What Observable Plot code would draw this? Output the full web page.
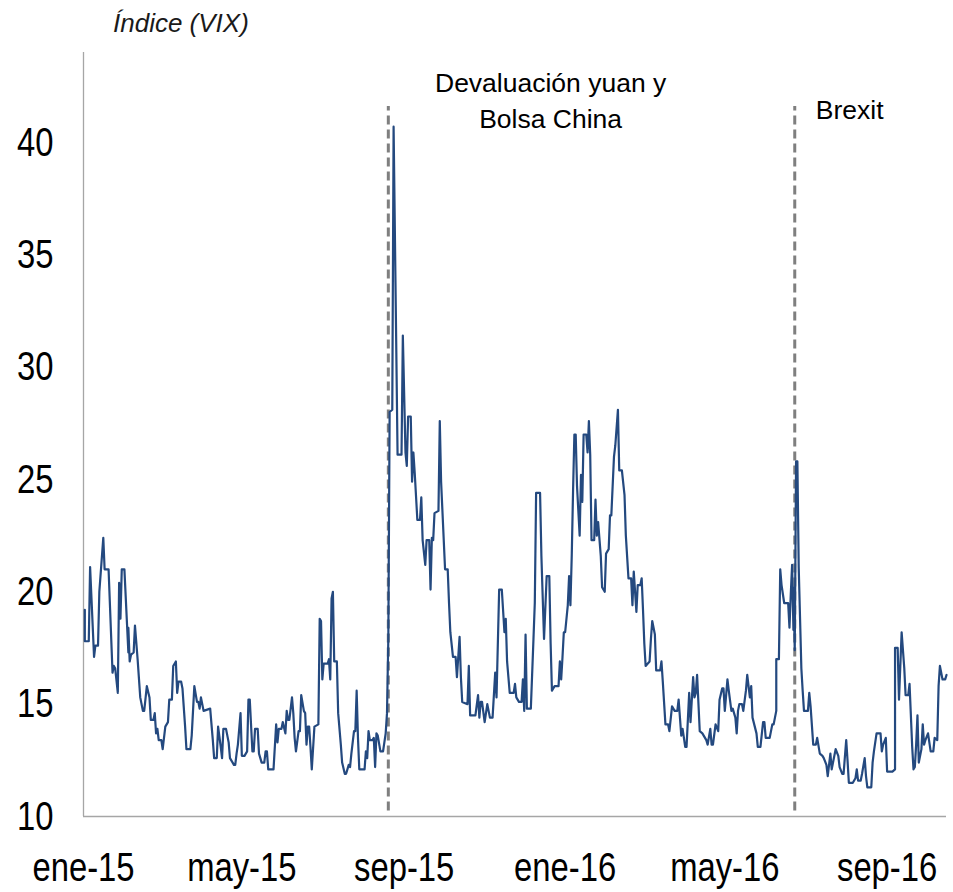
<!DOCTYPE html>
<html><head><meta charset="utf-8">
<script src="https://cdn.jsdelivr.net/npm/d3@7"></script>
<script src="https://cdn.jsdelivr.net/npm/@observablehq/plot@0.6"></script>
<style>
body{margin:0;background:#fff;}
#wrap{width:953px;}
#title{height:36px;padding-top:10px;padding-left:113px;font:italic 26px/26px "Liberation Sans",Arial,sans-serif;color:#1a1a1a;}
</style></head><body><div id="wrap"><div id="title">Índice (VIX)</div><div id="chart"></div></div>
<script>
const vix2015 = [
["2015-01-02",19.2],["2015-01-02",17.8],["2015-01-05",17.8],["2015-01-06",21.1],["2015-01-09",17.1],["2015-01-10",17.6],["2015-01-12",17.6],["2015-01-13",20.0],["2015-01-16",22.4],["2015-01-17",21.0],["2015-01-20",21.0],["2015-01-23",16.4],["2015-01-24",16.7],["2015-01-25",16.6],["2015-01-27",15.5],["2015-01-28",20.4],["2015-01-29",18.8],["2015-01-30",21.0],
["2015-02-01",21.0],["2015-02-04",17.3],["2015-02-04",18.4],["2015-02-05",16.9],["2015-02-06",17.2],["2015-02-08",17.3],["2015-02-09",18.5],["2015-02-11",17.0],["2015-02-13",15.3],["2015-02-15",14.7],["2015-02-16",14.7],["2015-02-18",15.8],["2015-02-20",15.3],["2015-02-21",14.3],["2015-02-23",14.3],["2015-02-24",14.6],["2015-02-25",13.7],["2015-02-26",13.9],["2015-02-27",13.4],
["2015-03-01",13.4],["2015-03-02",13.0],["2015-03-04",14.0],["2015-03-06",14.2],["2015-03-07",15.2],["2015-03-09",15.2],["2015-03-10",16.7],["2015-03-12",16.9],["2015-03-13",15.5],["2015-03-14",16.0],["2015-03-16",16.0],["2015-03-17",15.7],["2015-03-19",14.0],["2015-03-20",13.0],["2015-03-23",13.0],["2015-03-24",13.6],["2015-03-26",15.8],["2015-03-28",15.1],["2015-03-29",15.1],["2015-03-30",14.8],["2015-03-31",15.3],
["2015-04-02",14.7],["2015-04-07",14.8],["2015-04-09",13.4],["2015-04-10",12.6],["2015-04-12",12.6],["2015-04-13",14.0],["2015-04-15",13.1],["2015-04-16",12.6],["2015-04-17",13.9],["2015-04-19",13.9],["2015-04-21",13.3],["2015-04-22",12.6],["2015-04-25",12.3],["2015-04-26",12.3],["2015-04-27",12.8],["2015-04-28",13.2],["2015-04-30",14.6],
["2015-05-01",12.7],["2015-05-03",12.7],["2015-05-05",12.9],["2015-05-06",15.2],["2015-05-07",15.2],["2015-05-09",12.9],["2015-05-10",12.9],["2015-05-11",13.9],["2015-05-13",13.9],["2015-05-14",12.8],["2015-05-16",12.4],["2015-05-18",12.4],["2015-05-19",12.9],["2015-05-20",12.9],["2015-05-21",12.1],["2015-05-25",12.1],["2015-05-27",14.1],["2015-05-28",13.3],["2015-05-29",13.9],["2015-05-31",13.9],
["2015-06-01",14.2],["2015-06-03",13.7],["2015-06-04",14.7],["2015-06-05",14.3],["2015-06-06",14.3],["2015-06-08",15.3],["2015-06-09",14.6],["2015-06-10",13.5],["2015-06-11",12.9],["2015-06-13",13.8],["2015-06-14",13.8],["2015-06-15",15.4],["2015-06-17",14.7],["2015-06-18",14.6],["2015-06-19",13.2],["2015-06-20",14.0],["2015-06-21",14.0],["2015-06-22",13.1],["2015-06-23",12.1],["2015-06-25",14.0],["2015-06-28",14.1],["2015-06-29",18.8],["2015-06-30",18.7],
["2015-07-01",16.1],["2015-07-02",16.8],["2015-07-04",16.8],["2015-07-05",16.8],["2015-07-06",17.0],["2015-07-07",16.1],["2015-07-08",19.7],["2015-07-09",20.0],["2015-07-10",16.9],["2015-07-12",16.9],["2015-07-13",14.6],["2015-07-15",13.2],["2015-07-16",12.4],["2015-07-18",11.9],["2015-07-19",11.9],["2015-07-21",12.3],["2015-07-22",12.2],["2015-07-23",12.8],["2015-07-25",13.8],["2015-07-26",13.8],["2015-07-27",15.6],["2015-07-28",13.5],["2015-07-29",12.1],
["2015-08-02",12.1],["2015-08-03",12.9],["2015-08-04",12.6],["2015-08-05",13.8],["2015-08-06",13.4],["2015-08-08",13.4],["2015-08-09",13.5],["2015-08-10",12.2],["2015-08-11",13.7],["2015-08-12",13.6],["2015-08-14",12.9],["2015-08-16",12.9],["2015-08-18",13.7],["2015-08-19",14.6],["2015-08-20",17.9],["2015-08-21",28.0],["2015-08-23",28.1],["2015-08-24",40.7],["2015-08-27",26.1],["2015-08-30",26.1],["2015-08-31",31.4],
["2015-09-02",26.2],["2015-09-03",25.6],["2015-09-04",27.8],["2015-09-06",27.8],["2015-09-07",24.9],["2015-09-08",26.2],["2015-09-09",25.3],["2015-09-11",23.2],["2015-09-13",23.2],["2015-09-14",24.2],["2015-09-15",22.3],["2015-09-17",21.2],["2015-09-18",22.3],["2015-09-20",22.3],["2015-09-21",20.1],["2015-09-22",22.4],["2015-09-23",22.3],["2015-09-24",23.5],["2015-09-27",23.6],["2015-09-28",27.6],["2015-09-29",24.9],
["2015-10-02",21.0],["2015-10-04",21.0],["2015-10-05",19.5],["2015-10-06",18.2],["2015-10-08",17.1],["2015-10-10",17.1],["2015-10-11",16.2],["2015-10-13",18.0],["2015-10-14",16.2],["2015-10-15",15.1],["2015-10-19",15.0],["2015-10-20",16.7],["2015-10-21",14.5],["2015-10-25",14.5],["2015-10-27",15.4],["2015-10-28",14.4],["2015-10-29",15.1],["2015-10-30",15.1],
["2015-11-01",14.2],["2015-11-03",15.0],["2015-11-05",14.4],["2015-11-07",14.4],["2015-11-09",16.4],["2015-11-10",15.3],["2015-11-12",20.1],["2015-11-14",20.1],["2015-11-16",18.2],["2015-11-17",18.8],["2015-11-18",16.9],["2015-11-20",15.5],["2015-11-23",15.5],["2015-11-24",15.9],["2015-11-25",15.3],["2015-11-27",15.1],["2015-11-29",15.1],["2015-11-30",16.1],
["2015-12-01",14.7],["2015-12-02",18.1],["2015-12-03",14.8],["2015-12-06",14.8],["2015-12-08",17.9],["2015-12-09",19.5],["2015-12-10",24.4],["2015-12-13",24.4],["2015-12-14",21.6],["2015-12-16",17.9],["2015-12-18",20.7],["2015-12-20",20.7],["2015-12-21",17.7],["2015-12-22",15.6],["2015-12-24",15.8],["2015-12-27",15.8],["2015-12-28",16.9],["2015-12-29",16.1],["2015-12-30",17.1],["2015-12-31",18.2]
];
const vix2016 = [
["2016-01-01",18.2],["2016-01-03",19.4],["2016-01-04",20.7],["2016-01-05",19.4],["2016-01-06",21.6],["2016-01-07",24.5],["2016-01-08",27.0],["2016-01-09",27.0],["2016-01-10",24.7],["2016-01-12",22.5],["2016-01-13",25.2],["2016-01-14",24.0],["2016-01-15",27.0],["2016-01-17",27.0],["2016-01-18",26.2],["2016-01-19",27.6],["2016-01-20",26.1],["2016-01-21",22.3],["2016-01-23",22.3],["2016-01-24",24.1],["2016-01-25",22.5],["2016-01-26",23.1],["2016-01-28",21.6],["2016-01-29",20.2],["2016-01-31",20.0],
["2016-02-01",21.7],["2016-02-03",21.9],["2016-02-04",23.4],["2016-02-05",23.4],["2016-02-07",26.0],["2016-02-08",26.5],["2016-02-10",28.1],["2016-02-11",25.4],["2016-02-13",25.4],["2016-02-15",24.3],["2016-02-16",22.5],["2016-02-18",20.6],["2016-02-20",20.6],["2016-02-21",19.4],["2016-02-22",20.9],["2016-02-24",19.1],["2016-02-25",20.3],["2016-02-27",20.3],["2016-02-28",20.6],["2016-02-29",19.2],
["2016-03-01",17.7],["2016-03-02",16.7],["2016-03-05",16.9],["2016-03-06",17.9],["2016-03-07",18.7],["2016-03-09",18.1],["2016-03-10",16.5],["2016-03-13",16.5],["2016-03-14",16.9],["2016-03-15",16.0],["2016-03-17",14.1],["2016-03-19",14.1],["2016-03-20",13.8],["2016-03-22",14.9],["2016-03-24",14.7],["2016-03-26",14.7],["2016-03-27",15.2],["2016-03-29",13.6],["2016-03-30",13.9],
["2016-04-01",13.1],["2016-04-02",13.1],["2016-04-03",14.3],["2016-04-04",15.5],["2016-04-05",14.2],["2016-04-07",16.2],["2016-04-08",15.3],["2016-04-09",15.5],["2016-04-10",16.3],["2016-04-12",13.8],["2016-04-14",13.7],["2016-04-15",13.6],["2016-04-17",13.4],["2016-04-18",13.2],["2016-04-20",13.9],["2016-04-21",13.2],["2016-04-22",13.2],["2016-04-24",14.1],["2016-04-26",13.8],["2016-04-27",15.2],["2016-04-29",15.7],["2016-04-30",15.7],
["2016-05-01",14.7],["2016-05-03",16.1],["2016-05-04",15.6],["2016-05-06",14.7],["2016-05-07",14.8],["2016-05-09",14.4],["2016-05-10",13.7],["2016-05-11",14.7],["2016-05-12",15.0],["2016-05-14",15.0],["2016-05-15",14.7],["2016-05-17",15.6],["2016-05-18",16.3],["2016-05-20",15.3],["2016-05-21",15.8],["2016-05-22",14.4],["2016-05-25",13.7],["2016-05-26",13.1],["2016-05-28",13.1],["2016-05-30",14.2],["2016-05-31",14.2],
["2016-06-01",13.5],["2016-06-04",13.5],["2016-06-06",14.1],["2016-06-07",14.1],["2016-06-09",14.7],["2016-06-09",17.0],["2016-06-11",17.0],["2016-06-12",21.0],["2016-06-13",20.3],["2016-06-15",19.5],["2016-06-18",19.5],["2016-06-19",18.4],["2016-06-20",19.9],["2016-06-21",21.2],["2016-06-22",18.3],["2016-06-22",20.2],["2016-06-23",17.4],["2016-06-24",25.8],["2016-06-25",25.8],["2016-06-26",21.1],["2016-06-28",16.6],["2016-06-29",15.6],["2016-06-30",14.7],
["2016-07-03",14.7],["2016-07-04",15.5],["2016-07-05",14.9],["2016-07-07",13.2],["2016-07-09",13.2],["2016-07-10",13.5],["2016-07-12",12.8],["2016-07-14",12.7],["2016-07-15",12.6],["2016-07-17",12.3],["2016-07-18",11.8],["2016-07-20",12.8],["2016-07-21",12.1],["2016-07-22",12.4],["2016-07-24",13.0],["2016-07-26",12.7],["2016-07-27",12.2],["2016-07-29",11.9],["2016-07-30",11.9],
["2016-08-01",13.4],["2016-08-02",12.5],["2016-08-03",11.5],["2016-08-06",11.5],["2016-08-08",11.7],["2016-08-09",12.1],["2016-08-10",11.6],["2016-08-12",11.6],["2016-08-13",11.9],["2016-08-15",12.6],["2016-08-16",11.8],["2016-08-17",11.3],["2016-08-20",11.3],["2016-08-21",12.4],["2016-08-22",12.9],["2016-08-24",13.7],["2016-08-27",13.7],["2016-08-28",12.9],["2016-08-29",13.2],["2016-08-31",13.5],
["2016-09-01",12.0],["2016-09-05",12.0],["2016-09-07",12.1],["2016-09-07",17.5],["2016-09-09",17.5],["2016-09-10",15.2],["2016-09-12",18.2],["2016-09-14",16.6],["2016-09-15",15.4],["2016-09-17",15.4],["2016-09-18",15.9],["2016-09-20",13.1],["2016-09-21",12.1],["2016-09-22",12.2],["2016-09-23",13.2],["2016-09-24",14.5],["2016-09-25",12.4],["2016-09-27",13.0],["2016-09-28",14.1],["2016-09-29",13.2],["2016-09-30",13.4],
["2016-10-02",13.7],["2016-10-04",12.9],["2016-10-06",12.9],["2016-10-07",13.5],["2016-10-09",13.4],["2016-10-10",15.8],["2016-10-11",16.7],["2016-10-13",16.1],["2016-10-15",16.1],["2016-10-16",16.3]
];
const xTickDates = ["2015-01-01","2015-05-01","2015-09-01","2016-01-01","2016-05-01","2016-09-01"];
const xTickLabels = ["ene-15","may-15","sep-15","ene-16","may-16","sep-16"];
const yTicks = [10,15,20,25,30,35,40];
const eventDates = ["2015-08-20","2016-06-23"];
const eventLabels = ["Devaluación yuan y\nBolsa China","Brexit"];
const eventLabelDates = ["2015-12-21","2016-07-09"];
const eventLabelY = [40.62, 41.05];
const eventAnchors = ["middle","start"];

const parse = d3.utcParse("%Y-%m-%d");
const series = vix2015.concat(vix2016).map(([d, v]) => ({date: parse(d), value: v}));
const ticks = xTickDates.map(parse);
const labelOf = new Map(ticks.map((t, i) => [+t, xTickLabels[i]]));
const ev = eventDates.map((d, i) => ({date: parse(d), label: eventLabels[i], labelDate: parse(eventLabelDates[i]), ly: eventLabelY[i], anchor: eventAnchors[i]}));

const sans = "'Liberation Sans',Arial,sans-serif";
const x0 = parse("2015-01-01"), x1 = parse("2016-10-16");
const yTop = 44;

const chart = Plot.plot({
  width: 953, height: 846,
  marginLeft: 83, marginRight: 7, marginTop: 6, marginBottom: 76,
  style: {background: "#fff"},
  x: {type: "utc", domain: [x0, x1], label: null},
  y: {domain: [10, yTop], label: null},
  marks: [
    Plot.ruleX([x0], {y1: 10, y2: yTop, stroke: "#a6a6a6", strokeWidth: 1.3}),
    Plot.ruleY([10], {stroke: "#a6a6a6", strokeWidth: 1.3}),
    Plot.ruleX(ev, {x: "date", y1: 10.25, y2: 41.6, stroke: "#7f7f7f", strokeWidth: 3, strokeDasharray: "9,5"}),
    Plot.line(series, {x: "date", y: "value", stroke: "#24497f", strokeWidth: 2.2, curve: "linear"}),
    Plot.axisY(yTicks, {label: null, tickSize: 0, tickPadding: 30, fontSize: 41, fontFamily: sans, fill: "#000"}),
    Plot.axisX(ticks, {label: null, tickSize: 0, tickPadding: 35, fontSize: 41, fontFamily: sans, fill: "#000", tickFormat: d => labelOf.get(+d)}),
    Plot.text(ev.filter(e => e.anchor === "middle"), {x: "labelDate", y: "ly", text: "label", textAnchor: "middle", lineAnchor: "bottom", lineHeight: 1.36, fontSize: 26.5, fontFamily: sans, fill: "#000"}),
    Plot.text(ev.filter(e => e.anchor === "start"), {x: "labelDate", y: "ly", text: "label", textAnchor: "start", lineAnchor: "bottom", fontSize: 26.5, fontFamily: sans, fill: "#000"})
  ]
});
// condense the tick labels horizontally (the reference uses a narrow face)
d3.select(chart).selectAll('g[aria-label="y-axis tick label"] text, g[aria-label="x-axis tick label"] text').each(function() {
  const t = this.getAttribute("transform");
  if (t) this.setAttribute("transform", t + " scale(0.8,1)");
});
document.getElementById("chart").appendChild(chart);
</script></body></html>
